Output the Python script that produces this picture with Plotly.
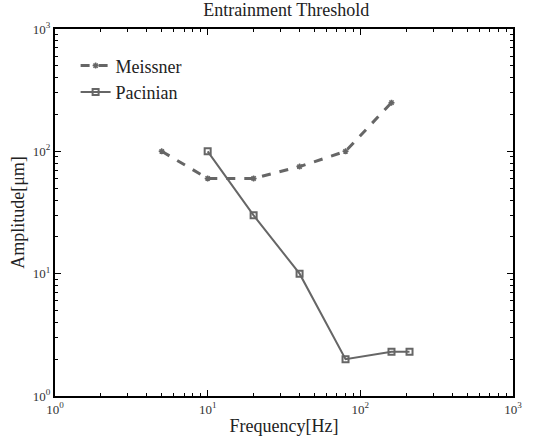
import plotly.graph_objects as go

meissner_freq = [5, 10, 20, 40, 80, 160]
meissner_amp = [100, 60, 60, 75, 100, 250]
pacinian_freq = [10, 20, 40, 80, 160, 210]
pacinian_amp = [100, 30, 10, 2, 2.3, 2.3]

tick_vals = [1, 10, 100, 1000]
tick_text = ["10<sup>0</sup>", "10<sup>1</sup>", "10<sup>2</sup>", "10<sup>3</sup>"]
minor_vals = [m * d for d in (1, 10, 100) for m in range(2, 10)]

gray = "#666666"
font = "Liberation Serif, Times New Roman, serif"

fig = go.Figure()
fig.add_trace(go.Scatter(
    x=meissner_freq, y=meissner_amp, name="Meissner", mode="lines+markers",
    line=dict(color=gray, width=3, dash="dash"),
    marker=dict(symbol="asterisk-open", size=5, color=gray, line=dict(color=gray, width=1.5)),
))
fig.add_trace(go.Scatter(
    x=pacinian_freq, y=pacinian_amp, name="Pacinian", mode="lines+markers",
    line=dict(color=gray, width=2),
    marker=dict(symbol="square-open", size=6, color=gray, line=dict(color=gray, width=2)),
))

axis_common = dict(
    type="log", tickvals=tick_vals, ticktext=tick_text,
    ticks="inside", ticklen=6, tickwidth=1, tickcolor="black",
    showline=True, linecolor="black", linewidth=2, mirror="allticks",
    showgrid=False, zeroline=False,
    tickfont=dict(family=font, size=13, color="#333"),
    minor=dict(tickvals=minor_vals, ticks="inside", ticklen=3, tickcolor="black"),
)

fig.update_layout(
    width=535, height=445,
    margin=dict(l=55, r=22, t=29, b=45),
    paper_bgcolor="white", plot_bgcolor="white",
    title=dict(text="Entrainment Threshold", x=0.535, xanchor="center", y=0.993, yanchor="top",
               font=dict(family=font, size=18, color="#222")),
    font=dict(family=font, color="#222"),
    xaxis=dict(range=[0, 3], title=dict(text="Frequency[Hz]", font=dict(family=font, size=18, color="#222"), standoff=4), **axis_common),
    yaxis=dict(range=[0, 3], title=dict(text="Amplitude[μm]", font=dict(family=font, size=18, color="#222"), standoff=4), **axis_common),
    legend=dict(x=0.045, y=0.95, xanchor="left", yanchor="top", bgcolor="rgba(0,0,0,0)",
                font=dict(family=font, size=18, color="#222"), tracegroupgap=0, itemwidth=30),
    showlegend=True,
)

fig.write_html("out.html", config={"displayModeBar": False},
               post_script="document.body.style.margin='0';document.body.style.overflow='hidden';")
